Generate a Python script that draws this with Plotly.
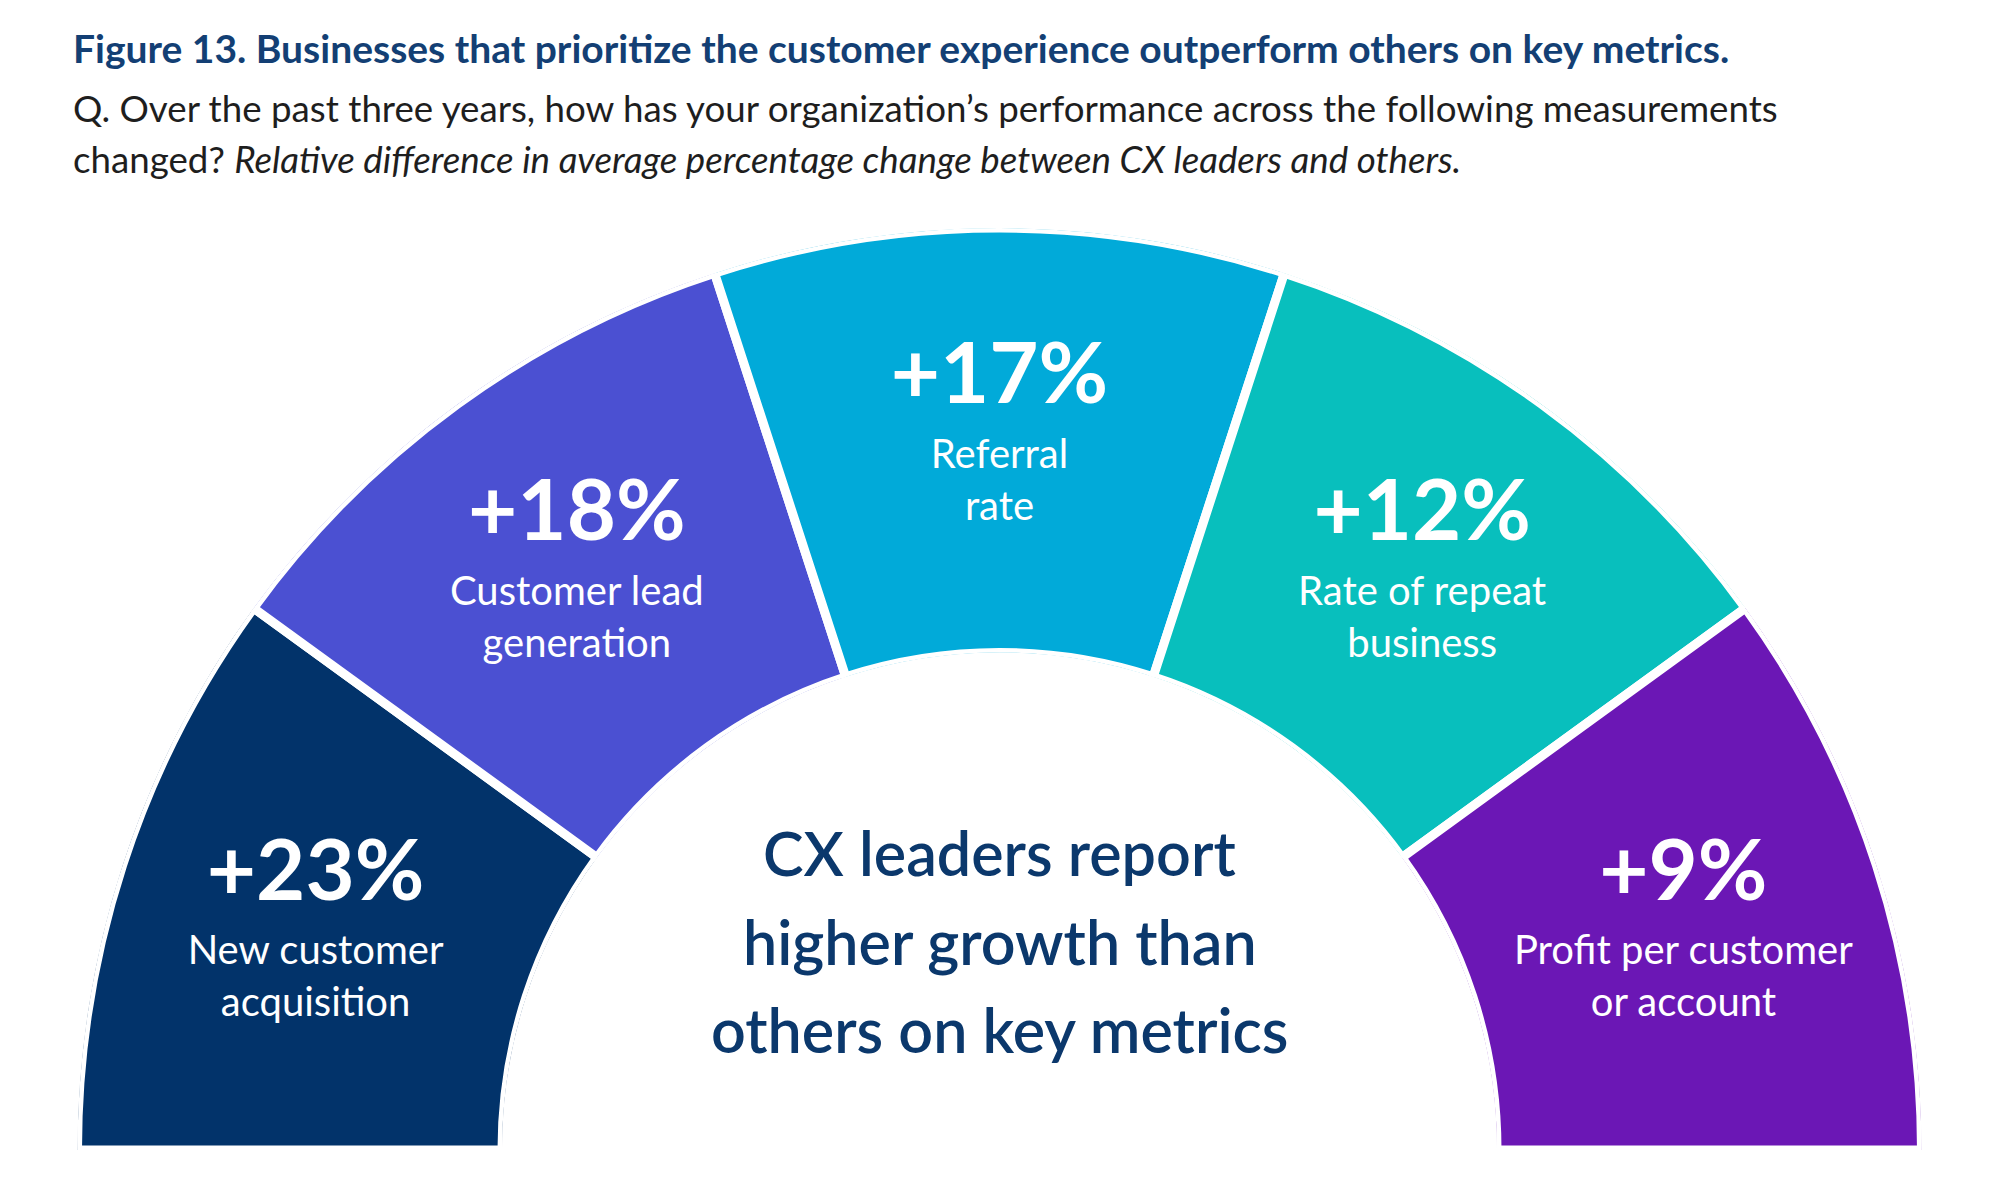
import plotly.graph_objects as go

# ---- data ----
categories = ["New customer<br>acquisition", "Customer lead<br>generation", "Referral<br>rate",
              "Rate of repeat<br>business", "Profit per customer<br>or account"]
values = [23, 18, 17, 12, 9]
colors = ["#02336A", "#4B50D2", "#01AAD9", "#08BFBD", "#6B17B5"]
value_labels = [f"+{v}%" for v in values]

title = "Figure 13. Businesses that prioritize the customer experience outperform others on key metrics."
subtitle1 = "Q. Over the past three years, how has your organization\u2019s performance across the following measurements"
subtitle2 = "changed? <i>Relative difference in average percentage change between CX leaders and others.</i>"
center_lines = ["CX leaders report", "higher growth than", "others on key metrics"]

# ---- geometry (equal sectors over a half circle) ----
n = len(categories)
sector_w = 180 / n
theta = [180 - sector_w * (i + 0.5) for i in range(n)]

W, H = 1999, 1186
FONT = "Lato"

fig = go.Figure()
fig.add_trace(go.Barpolar(
    r=[1] * n, theta=theta, width=[sector_w] * n,
    marker=dict(color=colors, line=dict(color="white", width=9)),
    hoverinfo="skip", showlegend=False,
))
# value numbers (above anchor)
fig.add_trace(go.Scatterpolar(
    r=[0.522] * n, theta=theta, mode="markers+text", text=value_labels,
    textposition="top center",
    marker=dict(size=9, color="rgba(0,0,0,0)"),
    textfont=dict(family=FONT, size=85, color="white", weight=700),
    hoverinfo="skip", showlegend=False,
))
# category labels (below anchor)
fig.add_trace(go.Scatterpolar(
    r=[0.522] * n, theta=theta, mode="markers+text", text=categories,
    textposition="bottom center",
    marker=dict(size=9, color="rgba(0,0,0,0)"),
    textfont=dict(family=FONT, size=40, color="white"),
    hoverinfo="skip", showlegend=False,
))

cx, cy, R = 999.5, 1150, 922
line_y = [852, 941, 1029]

annotations = [
    dict(text=f"<b>{title}</b>", x=71 / W, y=1 - 48 / H, xref="paper", yref="paper",
         xanchor="left", yanchor="middle", showarrow=False,
         font=dict(family=FONT, size=39, color="#133F74")),
    dict(text=subtitle1, x=71 / W, y=1 - 108 / H, xref="paper", yref="paper",
         xanchor="left", yanchor="middle", showarrow=False,
         font=dict(family=FONT, size=36.7, color="#1E1E1E")),
    dict(text=subtitle2, x=71 / W, y=1 - 159 / H, xref="paper", yref="paper",
         xanchor="left", yanchor="middle", showarrow=False,
         font=dict(family=FONT, size=36.7, color="#1E1E1E")),
]
for txt, yy in zip(center_lines, line_y):
    annotations.append(dict(text=txt, x=cx / W, y=1 - yy / H, xref="paper", yref="paper",
                            xanchor="center", yanchor="middle", showarrow=False,
                            font=dict(family=FONT, size=61, color="#0B386C", weight=600)))

fig.update_layout(
    width=W, height=H,
    margin=dict(l=0, r=0, t=0, b=0),
    paper_bgcolor="white",
    plot_bgcolor="white",
    polar=dict(
        sector=[0, 180],
        hole=0.5396,
        bgcolor="white",
        domain=dict(x=[(cx - R) / W, (cx + R) / W], y=[(H - cy) / H, (H - cy + R) / H]),
        radialaxis=dict(range=[0, 1], visible=False),
        angularaxis=dict(visible=False, direction="counterclockwise", rotation=0),
    ),
    annotations=annotations,
)

fig.write_html("out.html")
